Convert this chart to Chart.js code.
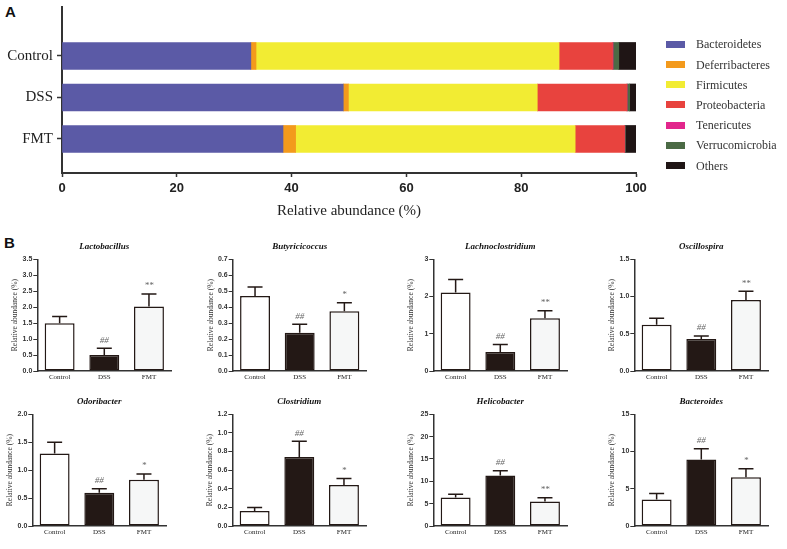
<!DOCTYPE html>
<html>
<head>
<meta charset="utf-8">
<script src="https://cdn.jsdelivr.net/npm/chart.js@4.4.1/dist/chart.umd.min.js"></script>
<style>
  html, body { margin: 0; padding: 0; background: #fff; }
  #page { position: relative; width: 787px; height: 549px; overflow: hidden; background: #fff; }
  .panel { position: absolute; font: bold 15px "Liberation Sans", Arial, sans-serif; line-height: 15px; color: #111; }
  canvas { position: absolute; }
  #legendA { position: absolute; left: 666px; top: 0; font: 12px "Liberation Serif", "Times New Roman", serif; color: #333; }
  #legendA .item { position: absolute; left: 0; height: 14px; line-height: 14px; white-space: nowrap; }
  #legendA .sw { position: absolute; left: 0; top: 3.5px; width: 19px; height: 7px; }
  #legendA .txt { position: absolute; left: 30px; top: 0; }
</style>
</head>
<body>
<div id="page">
  <div class="panel" style="left:5px; top:4px;">A</div>
  <canvas id="chartA" width="787" height="225" style="left:0; top:0;"></canvas>
  <div id="legendA"></div>
  <div class="panel" style="left:4px; top:235px;">B</div>
</div>
<script>
// ---- panel A: phylum composition (%)
const groups = ['Control', 'DSS', 'FMT'];
const phyla = ['Bacteroidetes', 'Deferribacteres', 'Firmicutes', 'Proteobacteria', 'Tenericutes', 'Verrucomicrobia', 'Others'];
const bacteroidetes   = [32.9, 49.0, 38.5];
const deferribacteres = [0.9, 0.9, 2.2];
const firmicutes      = [52.8, 32.9, 48.7];
const proteobacteria  = [9.3, 15.6, 8.6];
const tenericutes     = [0.1, 0.05, 0.05];
const verrucomicrobia = [1.0, 0.45, 0.1];
const others          = [3.0, 1.1, 1.85];
const phylumColors = ['#5b5aa6', '#f39a1c', '#f2ec33', '#e8433e', '#e2268c', '#4b6a45', '#1f1515'];

// ---- panel B: genus relative abundance (%), mean and SEM
const genera = ['Lactobacillus', 'Butyricicoccus', 'Lachnoclostridium', 'Oscillospira',
                'Odoribacter', 'Clostridium', 'Helicobacter', 'Bacteroides'];
const controlMean = [1.50, 0.47, 2.11, 0.62, 1.30, 0.16, 6.4, 3.56];
const dssMean     = [0.50, 0.24, 0.51, 0.43, 0.595, 0.74, 11.3, 8.92];
const fmtMean     = [2.02, 0.375, 1.42, 0.955, 0.83, 0.44, 5.5, 6.53];
const controlSem  = [0.21, 0.057, 0.35, 0.09, 0.20, 0.04, 0.7, 0.8];
const dssSem      = [0.21, 0.053, 0.20, 0.04, 0.07, 0.17, 1.05, 1.45];
const fmtSem      = [0.39, 0.052, 0.20, 0.115, 0.10, 0.07, 0.8, 1.15];
const dssMark     = ['##', '##', '##', '##', '##', '##', '##', '##'];
const fmtMark     = ['**', '*', '**', '**', '*', '*', '**', '*'];
const axisMax     = [3.5, 0.7, 3, 1.5, 2.0, 1.2, 25, 15];
const axisStep    = [0.5, 0.1, 1, 0.5, 0.5, 0.2, 5, 5];

const phylumValues = [bacteroidetes, deferribacteres, firmicutes, proteobacteria, tenericutes, verrucomicrobia, others];
const axisColor = '#333';

// legend (html)
const legendBox = document.getElementById('legendA');
phyla.forEach((name, k) => {
  const item = document.createElement('div');
  item.className = 'item';
  item.style.top = (37.3 + k * 20.2) + 'px';
  item.innerHTML = '<span class="sw" style="background:' + phylumColors[k] + '"></span><span class="txt">' + name + '</span>';
  legendBox.appendChild(item);
});

new Chart(document.getElementById('chartA'), {
  type: 'bar',
  data: {
    datasets: phyla.map((name, k) => ({
      label: name,
      data: phylumValues[k].map((v, i) => ({ x: v, y: i })),
      backgroundColor: phylumColors[k],
      borderWidth: 0,
      barThickness: 27
    }))
  },
  options: {
    indexAxis: 'y',
    responsive: false,
    animation: false,
    layout: { padding: { left: 0, right: 151, top: 7, bottom: 0 } },
    plugins: { legend: { display: false }, tooltip: { enabled: false } },
    scales: {
      x: {
        type: 'linear', stacked: true, min: 0, max: 100,
        ticks: { stepSize: 20, color: '#222', padding: 4,
                 font: { family: 'Liberation Sans', weight: 'bold', size: 13 } },
        grid: { drawOnChartArea: false, tickLength: 4, tickColor: axisColor, tickWidth: 1.5 },
        border: { color: axisColor, width: 2 },
        title: { display: true, text: 'Relative abundance (%)', color: '#222',
                 font: { family: 'Liberation Serif', size: 15 }, padding: { top: 0, bottom: 5 } },
        afterFit(s) { s.height = 52; s.paddingLeft = 0; s.paddingRight = 0; }
      },
      y: {
        type: 'linear', stacked: true, reverse: true, offset: false, min: -1.18, max: 2.82,
        afterBuildTicks(s) { s.ticks = groups.map((g, i) => ({ value: i })); },
        ticks: { callback: v => groups[v], color: '#222', padding: 4,
                 font: { family: 'Liberation Serif', size: 15 } },
        grid: { offset: false, drawOnChartArea: false, tickLength: 5, tickColor: axisColor, tickWidth: 1.5 },
        border: { color: axisColor, width: 2 },
        afterFit(s) { s.width = 62; s.paddingTop = 0; s.paddingBottom = 0; }
      }
    }
  }
});

// error bars + significance marks for panel B
const errorBars = {
  id: 'errorBars',
  afterDatasetsDraw(chart, args, opts) {
    const ctx = chart.ctx;
    const y = chart.scales.y;
    const values = chart.data.datasets[0].data;
    ctx.save();
    ctx.strokeStyle = '#231815';
    ctx.lineWidth = 1.5;
    chart.getDatasetMeta(0).data.forEach((bar, i) => {
      const yBar = y.getPixelForValue(values[i]);
      const yTop = y.getPixelForValue(values[i] + opts.sem[i]);
      ctx.beginPath();
      ctx.moveTo(bar.x, yBar);
      ctx.lineTo(bar.x, yTop);
      ctx.moveTo(bar.x - 7.5, yTop);
      ctx.lineTo(bar.x + 7.5, yTop);
      ctx.stroke();
      if (opts.marks[i]) {
        ctx.fillStyle = '#666';
        ctx.font = 'italic 9px "Liberation Serif"';
        ctx.textAlign = 'center';
        ctx.textBaseline = 'middle';
        ctx.fillText(opts.marks[i], bar.x, yTop - 8);
      }
    });
    ctx.restore();
  }
};

const plotW = 134;
const rowTop = [259.3, 414.3];
const rowZero = [371.3, 525.5];
const colAxis = [[37.3, 232.7, 433.3, 634.3], [32.3, 232.3, 433.3, 634.3]];
const page = document.getElementById('page');

genera.forEach((name, k) => {
  const row = k < 4 ? 0 : 1;
  const A = colAxis[row][k % 4];
  const T = rowTop[row], Z = rowZero[row];
  const left = Math.round(A - 37), top = Math.round(T - 26);
  const yw = A - left, th = T - top;
  const cv = document.createElement('canvas');
  cv.width = Math.round(yw + plotW + 4);
  cv.height = Math.round(Z - top + 16);
  cv.style.left = left + 'px';
  cv.style.top = top + 'px';
  page.appendChild(cv);
  const dec = axisStep[k] < 1 ? 1 : 0;

  new Chart(cv, {
    type: 'bar',
    data: {
      labels: groups,
      datasets: [{
        data: [controlMean[k], dssMean[k], fmtMean[k]],
        backgroundColor: ['#ffffff', '#231815', '#f6f7f7'],
        borderColor: '#231815',
        borderWidth: 1.5,
        borderSkipped: false,
        barPercentage: 0.67,
        categoryPercentage: 1
      }]
    },
    options: {
      responsive: false,
      animation: false,
      layout: { padding: { left: 0, right: cv.width - yw - plotW, top: 0, bottom: 0 } },
      plugins: {
        legend: { display: false },
        tooltip: { enabled: false },
        title: { display: true, text: name, fullSize: false, color: '#111',
                 font: { family: 'Liberation Serif', style: 'italic', weight: 'bold', size: 9 },
                 padding: { top: 8, bottom: th - 10.8 - 8 } },
        errorBars: { sem: [controlSem[k], dssSem[k], fmtSem[k]], marks: ['', dssMark[k], fmtMark[k]] }
      },
      scales: {
        x: {
          ticks: { color: '#222', padding: 2, font: { family: 'Liberation Serif', size: 7 } },
          grid: { display: false, drawTicks: false },
          border: { color: axisColor, width: 1.5 },
          afterFit(s) { s.height = 16; s.paddingLeft = 0; s.paddingRight = 0; }
        },
        y: {
          min: 0, max: axisMax[k],
          ticks: { stepSize: axisStep[k], callback: v => v.toFixed(dec), color: '#333', padding: 1,
                   font: { family: 'Liberation Sans', weight: 'bold', size: 7 } },
          grid: { drawOnChartArea: false, tickLength: 4, tickColor: axisColor, tickWidth: 1 },
          border: { color: axisColor, width: 1.5 },
          title: { display: true, text: 'Relative abundance (%)', color: '#333',
                   font: { family: 'Liberation Serif', size: 7.5 }, padding: { top: yw - 26.5, bottom: 0 } },
          afterFit(s) { s.width = yw; s.paddingTop = 0; s.paddingBottom = 0; }
        }
      }
    },
    plugins: [errorBars]
  });
});
</script>
</body>
</html>
